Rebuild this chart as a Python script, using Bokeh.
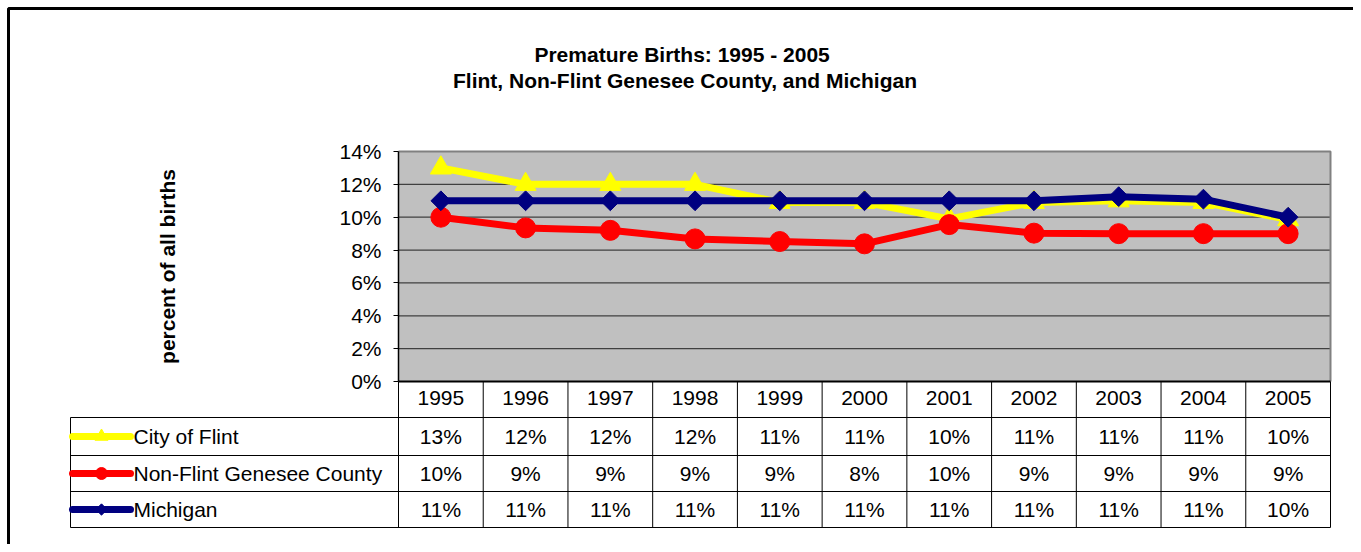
import numpy as np
from bokeh.plotting import figure
from bokeh.models import Range1d, LinearAxis, FixedTicker, PrintfTickFormatter
from bokeh.core.properties import value
from bokeh.embed import file_html
from bokeh.resources import INLINE

# ---------------- data ----------------
years = [1995, 1996, 1997, 1998, 1999, 2000, 2001, 2002, 2003, 2004, 2005]
flint = [13.0, 12.0, 12.0, 12.0, 10.9, 10.9, 9.9, 10.9, 11.0, 10.9, 9.85]
non_flint = [10.0, 9.35, 9.2, 8.68, 8.52, 8.38, 9.55, 9.03, 9.0, 9.0, 9.0]
michigan = [11.0, 11.0, 11.0, 11.0, 11.0, 11.0, 11.0, 11.0, 11.25, 11.1, 10.0]
series_names = ["City of Flint", "Non-Flint Genesee County", "Michigan"]
y_ticks = [0, 2, 4, 6, 8, 10, 12, 14]
title_lines = ["Premature Births:  1995 - 2005",
               "Flint, Non-Flint Genesee County, and Michigan"]
y_label = "percent of all births"

# ---------------- layout (canvas px) ----------------
W, H = 1353, 544
PLOT_L, PLOT_R, PLOT_T, PLOT_B = 398, 1330, 151, 381
TABLE_L = 70
ROW_LINES = [417, 455, 491, 527]
LEG_X0, LEG_X1, LEG_TX = 72, 130, 133
BORDER = 8
TITLE_X, TITLE_Y = 684.5, [54, 80]

n = len(years)
ux = (PLOT_R - PLOT_L) / n
uy = (PLOT_B - PLOT_T) / (y_ticks[-1] - y_ticks[0])


def fx(px):
    return -0.5 + (px - PLOT_L) / ux


def fy(py):
    return (PLOT_B - py) / uy


FONT = value("Liberation Sans")
FS = "21px"

p = figure(width=W, height=H, x_range=Range1d(fx(0), fx(W)), y_range=Range1d(fy(H), fy(0)),
           output_backend="svg", toolbar_location=None, min_border=0,
           x_axis_type=None, y_axis_type=None)
p.outline_line_color = None
p.background_fill_color = "white"
p.border_fill_color = "white"

xl, xr = -0.5, n - 0.5
ymin, ymax = y_ticks[0], y_ticks[-1]

# outer chart border (top & left)
p.line(x=[fx(BORDER), fx(BORDER), fx(W + 5)], y=[fy(H + 5), fy(BORDER), fy(BORDER)],
       line_color="black", line_width=3)

# plot area
p.quad(left=[xl], right=[xr], bottom=[ymin], top=[ymax], fill_color="#C0C0C0", line_color=None)
grid_y = y_ticks[1:-1]
p.segment(x0=[xl] * len(grid_y), x1=[xr] * len(grid_y), y0=grid_y, y1=grid_y,
          line_color="#404040", line_width=1.2)
p.line(x=[xl, xr, xr], y=[ymax, ymax, ymin], line_color="#808080", line_width=2)

# data table lines
row_y = [fy(r) for r in ROW_LINES]
bx = [xl + i for i in range(n + 1)]
p.segment(x0=bx, x1=bx, y0=[ymin] * len(bx), y1=[row_y[-1]] * len(bx), line_color="black", line_width=1)
p.segment(x0=[fx(TABLE_L)] * len(row_y), x1=[xr] * len(row_y), y0=row_y, y1=row_y,
          line_color="black", line_width=1)
p.segment(x0=[fx(TABLE_L)], x1=[fx(TABLE_L)], y0=[row_y[0]], y1=[row_y[-1]], line_color="black", line_width=1)

# series
xs = list(range(n))
series = [flint, non_flint, michigan]
colors = ["#FFFF00", "#FF0000", "#000080"]
markers = [("triangle", 21, 0), ("circle", 20, 0), ("square", 14, np.pi / 4)]
leg_markers = [("triangle", 13, 0), ("circle", 12, 0), ("square", 8, np.pi / 4)]

for k, (vals, col) in enumerate(zip(series, colors)):
    p.line(x=xs, y=vals, line_color=col, line_width=7)
    m, s, a = markers[k]
    p.scatter(x=xs, y=vals, marker=m, size=s, angle=a, fill_color=col, line_color=col)

# table rows: legend + values
for k, (vals, col, name) in enumerate(zip(series, colors, series_names)):
    yc = (row_y[k] + row_y[k + 1]) / 2
    p.line(x=[fx(LEG_X0), fx(LEG_X1)], y=[yc, yc], line_color=col, line_width=7, line_cap="round")
    m, s, a = leg_markers[k]
    p.scatter(x=[(fx(LEG_X0) + fx(LEG_X1)) / 2], y=[yc], marker=m, size=s, angle=a,
              fill_color=col, line_color=col)
    p.text(x=[fx(LEG_TX)], y=[yc], text=[name], text_font=FONT, text_font_size=FS,
           text_align="left", text_baseline="middle", text_color="black")
    labels = [f"{int(v + 0.5)}%" for v in vals]
    p.text(x=xs, y=[yc] * n, text=labels, text_font=FONT, text_font_size=FS,
           text_align="center", text_baseline="middle", text_color="black")

# title
p.text(x=[fx(TITLE_X)] * 2, y=[fy(t) for t in TITLE_Y], text=title_lines, text_font=FONT,
       text_font_size=FS, text_font_style="bold", text_align="center",
       text_baseline="alphabetic", text_color="black")

# axes
yaxis = LinearAxis(fixed_location=xl, bounds=(ymin, ymax), ticker=FixedTicker(ticks=y_ticks),
                   formatter=PrintfTickFormatter(format="%d%%"))
yaxis.major_tick_in = 0
yaxis.major_tick_out = 5
yaxis.minor_tick_line_color = None
yaxis.axis_line_color = "black"
yaxis.axis_line_width = 1.5
yaxis.major_label_standoff = 12
yaxis.major_label_text_font = "Liberation Sans"
yaxis.major_label_text_font_size = FS
yaxis.major_label_text_color = "black"
yaxis.axis_label = y_label
yaxis.axis_label_text_font = "Liberation Sans"
yaxis.axis_label_text_font_size = FS
yaxis.axis_label_text_font_style = "bold"
yaxis.axis_label_text_color = "black"
yaxis.axis_label_standoff = 157
p.add_layout(yaxis, "left")

xaxis = LinearAxis(fixed_location=ymin, bounds=(xl, xr), ticker=FixedTicker(ticks=xs),
                   major_label_overrides={i: str(y) for i, y in enumerate(years)})
xaxis.major_tick_in = 0
xaxis.major_tick_out = 0
xaxis.minor_tick_line_color = None
xaxis.axis_line_color = "black"
xaxis.axis_line_width = 2
xaxis.major_label_standoff = 9
xaxis.major_label_text_font = "Liberation Sans"
xaxis.major_label_text_font_size = FS
xaxis.major_label_text_color = "black"
p.add_layout(xaxis, "below")

open("out.html", "w").write(file_html(p, INLINE))
